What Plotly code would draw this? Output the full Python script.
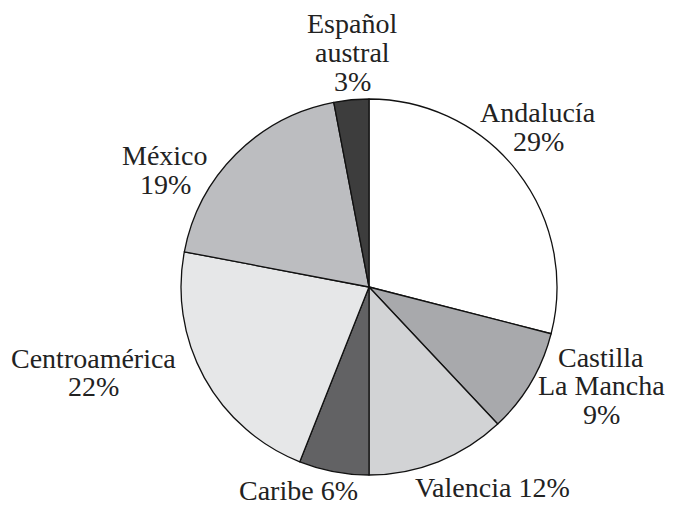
import plotly.graph_objects as go

# ---- data ----
categories = ["Andalucía", "Castilla La Mancha", "Valencia", "Caribe",
              "Centroamérica", "México", "Español austral"]
values = [29, 9, 12, 6, 22, 19, 3]
label_templates = ["Andalucía\n{v}%", "Castilla\nLa Mancha\n{v}%", "Valencia {v}%",
                   "Caribe {v}%", "Centroamérica\n{v}%", "México\n{v}%",
                   "Español\naustral\n{v}%"]
slice_colors = ["#ffffff", "#a8a9ac", "#d2d3d5", "#626264", "#e6e7e8", "#bcbdc0", "#3d3d3d"]

# ---- layout constants (screen pixels) ----
OFF = 8                      # page body margin
W, H = 674 - OFF, 506 - OFF  # figure size
cx, cy, r = 369, 287, 188
# label anchor: (center x, first line center y)
label_pos = [(538, 113), (601, 357), (492, 487), (298, 490), (93, 358), (165, 156), (352, 24)]
line_gap = 28.7
FONT = "Liberation Serif"
FSIZE = 28


def px(x):
    return (x - OFF) / W


def py(y):
    return 1 - (y - OFF) / H


fig = go.Figure(go.Pie(
    labels=categories,
    values=values,
    sort=False,
    direction="clockwise",
    rotation=0,
    textinfo="none",
    hoverinfo="skip",
    marker=dict(colors=slice_colors, line=dict(color="#111111", width=1.3)),
    domain=dict(x=[px(cx - r), px(cx + r)], y=[py(cy + r), py(cy - r)]),
    showlegend=False,
))

annotations = []
for tmpl, v, (lx, ly) in zip(label_templates, values, label_pos):
    lines = tmpl.format(v=v).split("\n")
    for i, ln in enumerate(lines):
        annotations.append(dict(
            x=px(lx), y=py(ly + i * line_gap), xref="paper", yref="paper",
            text=ln, showarrow=False, xanchor="center", yanchor="middle",
            font=dict(family=FONT, size=FSIZE, color="#222222"),
        ))

fig.update_layout(
    width=W, height=H,
    margin=dict(l=0, r=0, t=0, b=0),
    paper_bgcolor="white", plot_bgcolor="white",
    annotations=annotations,
)

fig.write_html("out.html")
